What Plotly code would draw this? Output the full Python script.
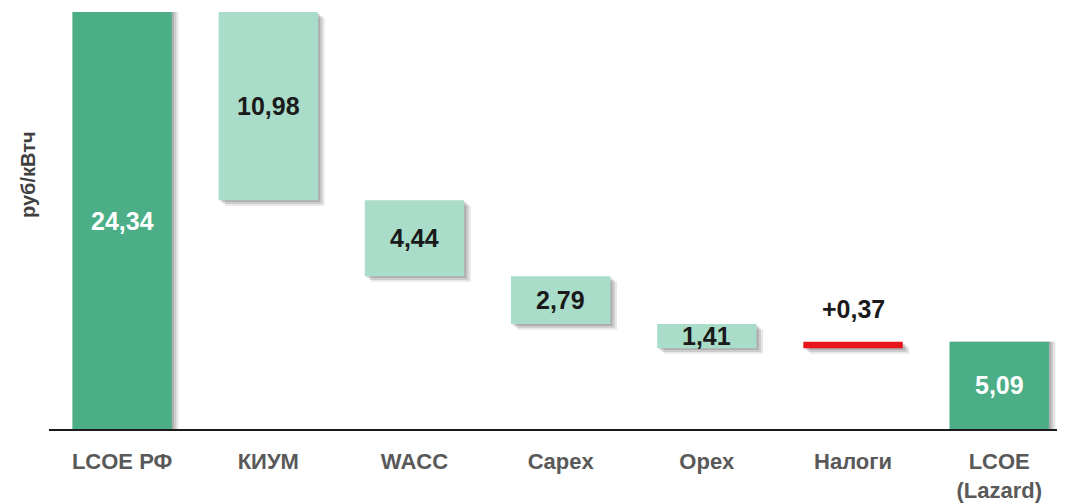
import plotly.graph_objects as go

categories = ["LCOE РФ", "КИУМ", "WACC", "Capex", "Opex", "Налоги", "LCOE<br>(Lazard)"]
values = [24.34, -10.98, -4.44, -2.79, -1.41, 0.37, 5.09]
measures = ["total", "relative", "relative", "relative", "relative", "relative", "total"]
labels = ["24,34", "10,98", "4,44", "2,79", "1,41", "+0,37", "5,09"]
y_title = "руб/кВтч"

DARK = "#4BAE86"
LIGHT = "#A9DDC9"
RED = "#E8151B"

bases, heights, colors, txtcol = [], [], [], []
running = 0.0
for v, m in zip(values, measures):
    if m == "total":
        bases.append(0.0)
        heights.append(v)
        colors.append(DARK)
        txtcol.append("white")
        running = v
    else:
        if v < 0:
            bases.append(running + v)
            heights.append(-v)
            colors.append(LIGHT)
            txtcol.append("#1a1a1a")
        else:
            bases.append(running)
            heights.append(v)
            colors.append(RED)
            txtcol.append("#1a1a1a")
        running += v

x_idx = list(range(len(categories)))
W = 0.68
fig = go.Figure()

# soft drop shadows
for dx, dy, a in [(0.045, 0.33, 0.12), (0.03, 0.22, 0.16), (0.015, 0.11, 0.20)]:
    fig.add_trace(go.Bar(
        x=x_idx, y=heights, base=[max(0, b - dy) for b in bases],
        width=W, offset=-W / 2 + dx,
        marker=dict(color=f"rgba(60,60,60,{a})", line=dict(width=0)),
        hoverinfo="skip", showlegend=False,
    ))

fig.add_trace(go.Bar(
    x=x_idx, y=heights, base=bases, width=W, offset=-W / 2,
    marker=dict(color=colors, line=dict(width=0)),
    showlegend=False,
))

for i, (b, h, m, v) in enumerate(zip(bases, heights, measures, values)):
    if m == "relative" and v > 0:
        fig.add_annotation(x=i, y=b + h, text=f"<b>{labels[i]}</b>", showarrow=False,
                           yshift=33, font=dict(size=25, color=txtcol[i],
                                                family="Liberation Sans"))
    else:
        fig.add_annotation(x=i, y=b + h / 2, text=f"<b>{labels[i]}</b>", showarrow=False,
                           font=dict(size=25, color=txtcol[i],
                                     family="Liberation Sans"))

# page has an 8px body offset; plot area spans page x 49..1065, y 8..429
fig.add_annotation(xref="paper", yref="paper", x=(28 - 49) / 1016, y=(429 - 175) / 421,
                   xanchor="center", yanchor="middle",
                   text=f"<b>{y_title}</b>", textangle=-90, showarrow=False,
                   font=dict(size=20, color="#404040", family="Liberation Sans"))

fig.update_layout(
    width=1057, height=495,
    margin=dict(l=41, r=0, t=0, b=74),
    plot_bgcolor="white", paper_bgcolor="white",
    barmode="overlay",
    font=dict(family="Liberation Sans"),
)
fig.update_xaxes(
    tickmode="array", tickvals=x_idx,
    ticktext=[f"<b>{c}</b>" for c in categories],
    tickfont=dict(size=22, color="#595959", family="Liberation Sans"),
    range=[-0.5, 6.45], showgrid=False, zeroline=False,
    showline=True, linecolor="#1a1a1a", linewidth=2,
    ticks="", ticklabelstandoff=12,
)
fig.update_yaxes(range=[0, 24.58], visible=False)

fig.write_html("out.html")
